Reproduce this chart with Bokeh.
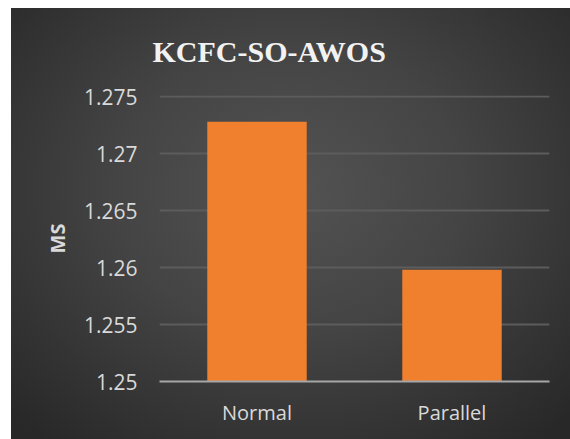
from bokeh.plotting import figure
from bokeh.models import FixedTicker, Range1d, Spacer
from bokeh.layouts import row, column
from bokeh.embed import file_html
from bokeh.resources import INLINE

chart_title = "KCFC-SO-AWOS"
categories = ["Normal", "Parallel"]
ms_values = [1.2728, 1.2598]
tick_values = [1.25, 1.255, 1.26, 1.265, 1.27, 1.275]
tick_labels = ["1.25", "1.255", "1.26", "1.265", "1.27", "1.275"]

p = figure(
    x_range=categories,
    y_range=Range1d(1.25, 1.2751),
    width=559, height=431,
    output_backend="svg", toolbar_location=None,
    min_border_left=148, min_border_right=21, min_border_top=87, min_border_bottom=58,
    title=chart_title,
    styles={"background": "radial-gradient(ellipse 70% 75% at 50% 42%, #535353 0%, #444444 45%, #282828 100%)"},
)
p.border_fill_alpha = 0
p.background_fill_alpha = 0
p.outline_line_color = None

p.vbar(x=categories, top=ms_values, bottom=1.25, width=0.51,
       fill_color="#f07f2e", line_color=None)

p.title.align = "left"
p.title.vertical_align = "top"
p.title.offset = -7
p.title.text_font = "Liberation Serif"
p.title.text_font_style = "bold"
p.title.text_font_size = "30px"
p.title.text_color = "#f2f2f2"
p.title.standoff = 51

p.xgrid.grid_line_color = None
p.ygrid.grid_line_color = "#5c5c5c"
p.ygrid.grid_line_width = 2
p.yaxis.ticker = FixedTicker(ticks=tick_values)
p.yaxis.major_label_overrides = dict(zip(tick_values, tick_labels))
p.yaxis.axis_line_color = None
p.yaxis.major_tick_line_color = None
p.yaxis.minor_tick_line_color = None
p.yaxis.major_tick_out = 0
p.yaxis.major_label_standoff = 22
p.yaxis.major_label_text_font = "Open Sans"
p.yaxis.major_label_text_font_size = "21px"
p.yaxis.major_label_text_color = "#d9d9d9"
p.yaxis.axis_label = "MS"
p.yaxis.axis_label_text_font = "Open Sans"
p.yaxis.axis_label_text_font_style = "bold"
p.yaxis.axis_label_text_font_size = "20px"
p.yaxis.axis_label_text_color = "#d9d9d9"
p.yaxis.axis_label_standoff = 10

p.xaxis.axis_line_color = "#a6a6a6"
p.xaxis.axis_line_width = 2
p.xaxis.major_tick_line_color = None
p.xaxis.minor_tick_line_color = None
p.xaxis.major_tick_out = 0
p.xaxis.major_label_standoff = 17
p.xaxis.major_label_text_font = "Open Sans"
p.xaxis.major_label_text_font_size = "20px"
p.xaxis.major_label_text_color = "#d9d9d9"

layout = column(Spacer(width=570, height=8), row(Spacer(width=11, height=431), p))
open("out.html", "w").write(file_html(layout, INLINE))
